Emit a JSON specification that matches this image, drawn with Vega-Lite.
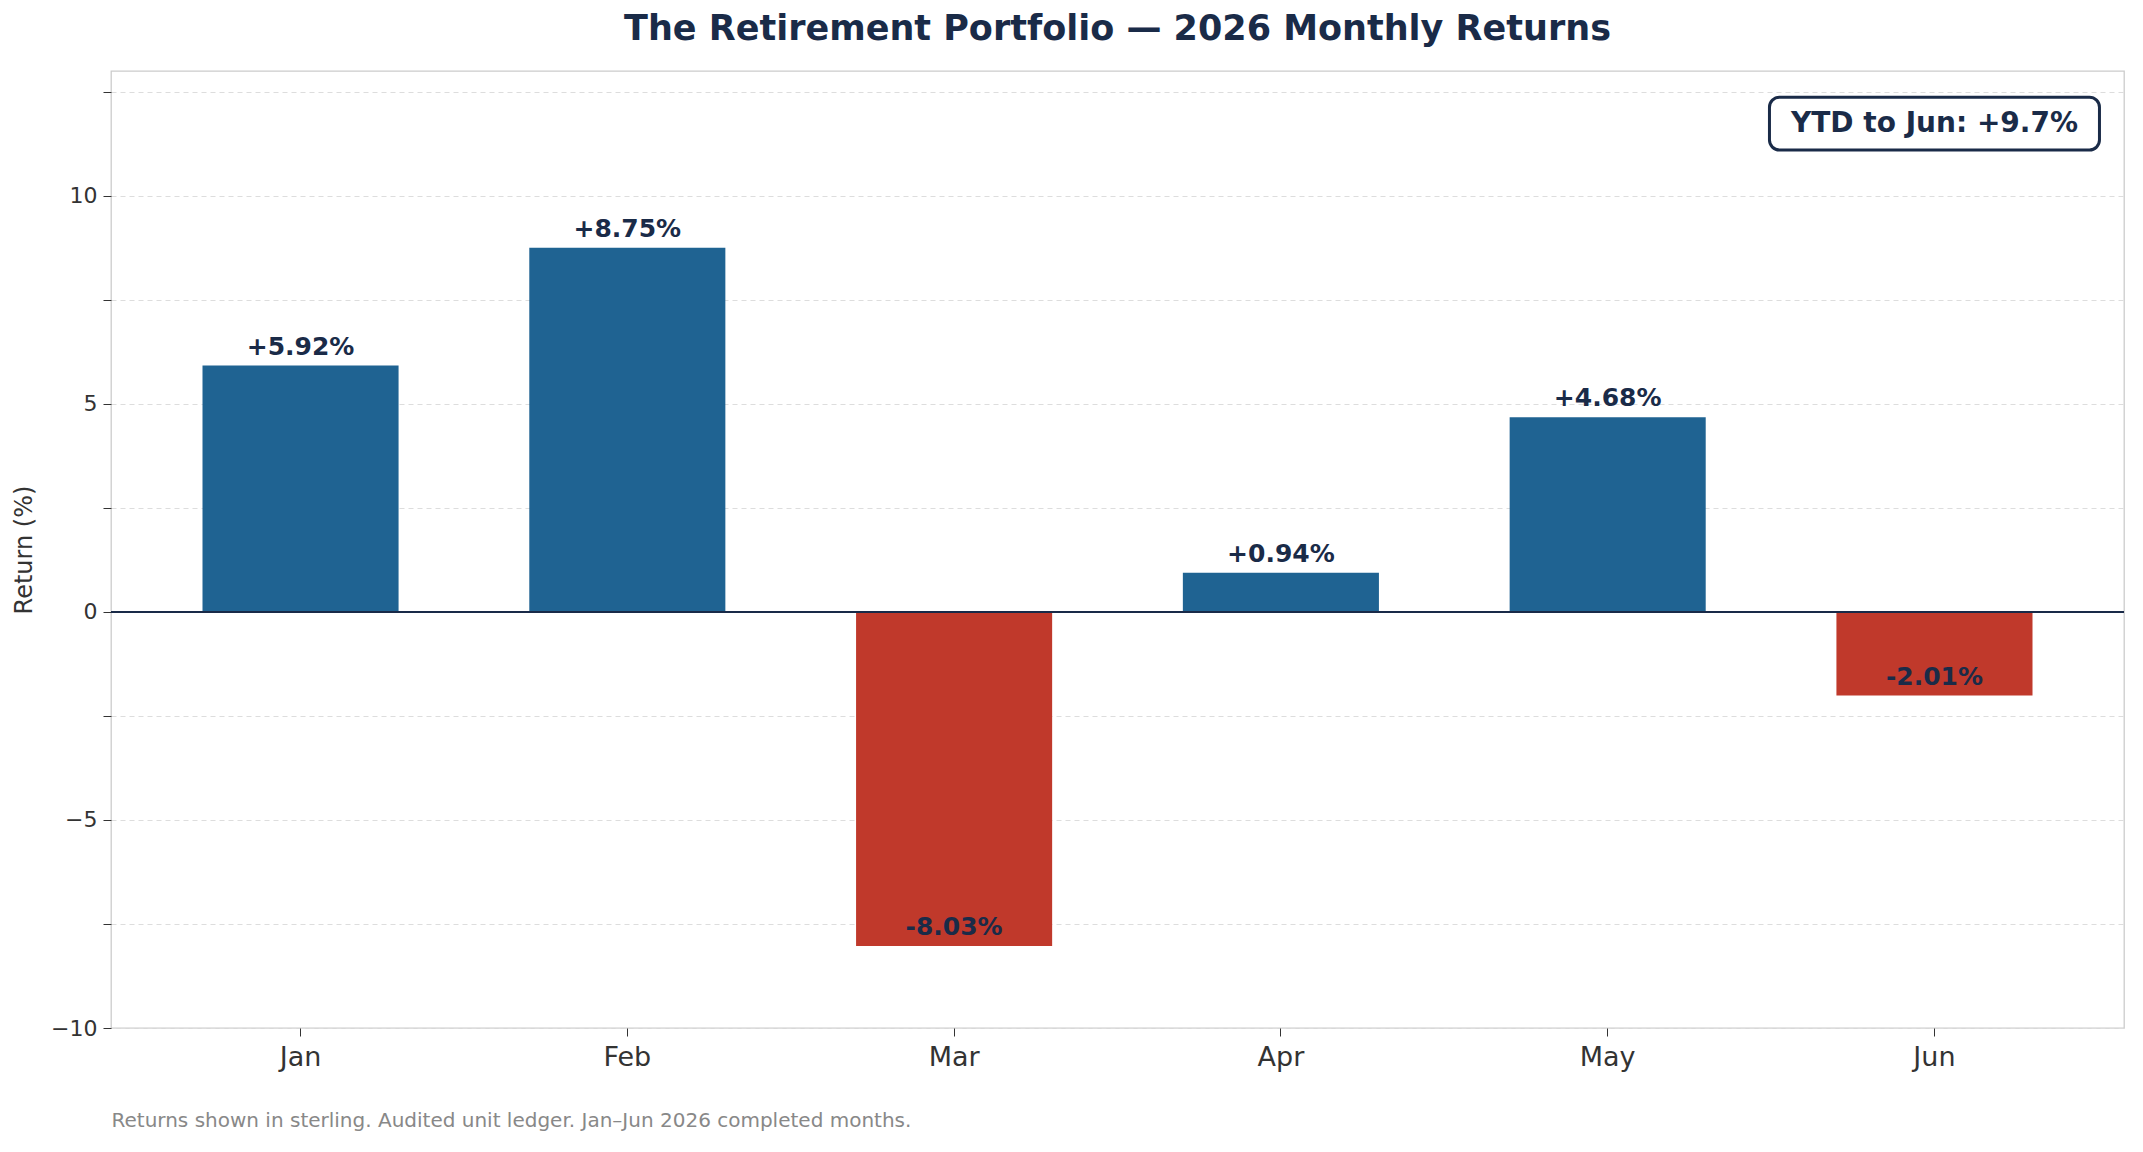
{
  "$schema": "https://vega.github.io/schema/vega-lite/v6.json",
  "autosize": {"type": "fit", "contains": "padding"},
  "width": 2143,
  "height": 1152,
  "padding": {"left": 12, "right": 18, "top": 12, "bottom": 22},
  "background": "white",
  "config": {
    "font": "DejaVu Sans",
    "view": {"stroke": "#cccccc", "strokeWidth": 1.3}
  },
  "title": {
    "text": "The Retirement Portfolio — 2026 Monthly Returns",
    "fontSize": 35,
    "fontWeight": "bold",
    "color": "#1a2b48",
    "offset": 24
  },
  "data": {
    "values": [
      {"month": "Jan", "ret": 5.92, "label": "+5.92%"},
      {"month": "Feb", "ret": 8.75, "label": "+8.75%"},
      {"month": "Mar", "ret": -8.03, "label": "-8.03%"},
      {"month": "Apr", "ret": 0.94, "label": "+0.94%"},
      {"month": "May", "ret": 4.68, "label": "+4.68%"},
      {"month": "Jun", "ret": -2.01, "label": "-2.01%"}
    ]
  },
  "encoding": {
    "x": {
      "field": "month", "type": "nominal", "sort": null,
      "scale": {"paddingInner": 0.4, "paddingOuter": 0.28},
      "axis": {
        "labelAngle": 0, "labelFontSize": 27, "labelColor": "#333333", "labelPadding": 8,
        "tickSize": 8, "tickColor": "#333333", "domain": false,
        "title": "Returns shown in sterling. Audited unit ledger. Jan–Jun 2026 completed months.",
        "titleAnchor": "start", "titleAlign": "left", "titleFontSize": 20, "titleFontWeight": "normal",
        "titleColor": "#888888", "titlePadding": 40
      }
    }
  },
  "layer": [
    {
      "mark": {"type": "bar"},
      "encoding": {
        "y": {
          "field": "ret", "type": "quantitative",
          "scale": {"domain": [-10, 13], "nice": false, "zero": false},
          "axis": {
            "values": [-10, -7.5, -5, -2.5, 0, 2.5, 5, 7.5, 10, 12.5],
            "labelExpr": "datum.value % 5 == 0 ? (datum.value < 0 ? '−' + abs(datum.value) : datum.value) : ''",
            "labelFontSize": 22, "labelColor": "#333333", "labelPadding": 6,
            "tickSize": 8, "tickColor": "#333333", "domain": false,
            "grid": true, "gridDash": [5, 4], "gridColor": "#dddddd", "gridWidth": 1,
            "title": "Return (%)", "titleFontSize": 24, "titleFontWeight": "normal",
            "titleColor": "#333333", "titlePadding": 14
          }
        },
        "color": {
          "condition": {"test": "datum.ret < 0", "value": "#c0392b"},
          "value": "#1f6392"
        }
      }
    },
    {
      "mark": {"type": "rule", "color": "#1a2b48", "strokeWidth": 1.5},
      "encoding": {"y": {"datum": 0}, "x": null}
    },
    {
      "mark": {"type": "text", "fontSize": 25, "fontWeight": "bold", "color": "#1a2b48", "baseline": "middle"},
      "encoding": {
        "y": {"field": "ret", "type": "quantitative"},
        "text": {"field": "label"},
        "yOffset": {"condition": {"test": "datum.ret < 0", "value": 19}, "value": -19}
      }
    },
    {
      "data": {"values": [{"month": "Jun", "y1": 11.1, "y2": 12.37, "t": "YTD to Jun: +9.7%"}]},
      "layer": [
        {
          "mark": {"type": "rect", "fill": "white", "stroke": "#1a2b48", "strokeWidth": 3, "cornerRadius": 10, "width": 330},
          "encoding": {"x": {"field": "month", "type": "nominal"}, "y": {"field": "y1", "type": "quantitative"}, "y2": {"field": "y2"}}
        },
        {
          "mark": {"type": "text", "fontSize": 28, "fontWeight": "bold", "color": "#1a2b48", "baseline": "middle"},
          "encoding": {"x": {"field": "month", "type": "nominal"}, "y": {"datum": 11.73}, "text": {"field": "t"}}
        }
      ]
    }
  ]
}
